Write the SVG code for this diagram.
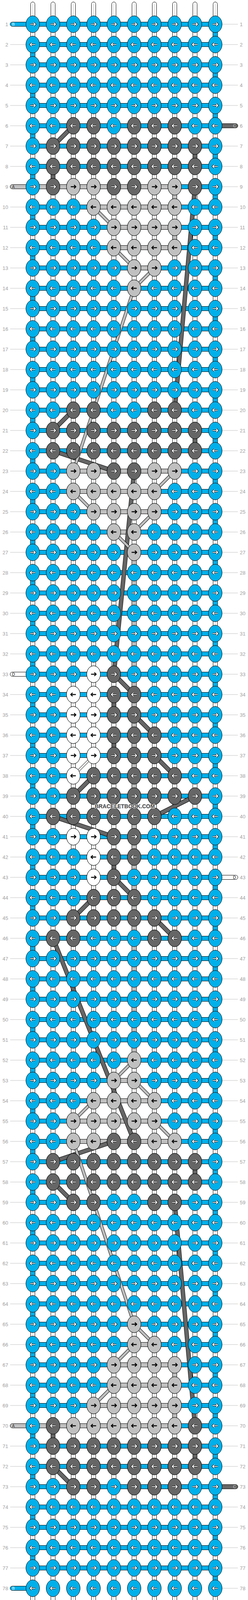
<svg xmlns="http://www.w3.org/2000/svg" xmlns:xlink="http://www.w3.org/1999/xlink" width="636" height="4128" viewBox="0 0 636 4128">
<style>
.lab{font-family:"Liberation Sans",Arial,sans-serif;font-size:13px;fill:#a0a0a0}
.le{text-anchor:end}
.tl{font-family:"Liberation Sans",Arial,sans-serif;font-size:10px}
</style>
<defs>
<ellipse id="k" rx="17.5" ry="21.5" stroke="#000" stroke-width="1"/>
<path id="pr" d="M-6.5,0H6M2,-4.5L6.5,0L2,4.5"/>
<path id="pl" d="M6.5,0H-6M-2,-4.5L-6.5,0L-2,4.5"/>
<g id="wr" fill="none"><use href="#pr" stroke="#000" stroke-width="4.2"/><use href="#pr" stroke="#fff" stroke-width="2.2"/></g>
<g id="wl" fill="none"><use href="#pl" stroke="#000" stroke-width="4.2"/><use href="#pl" stroke="#fff" stroke-width="2.2"/></g>
<g id="Br"><use href="#k" fill="#00b0ea"/><use href="#wr"/></g>
<g id="Bl"><use href="#k" fill="#00b0ea"/><use href="#wl"/></g>
<g id="Gr"><use href="#k" fill="#666"/><use href="#wr"/></g>
<g id="Gl"><use href="#k" fill="#666"/><use href="#wl"/></g>
<g id="Lr"><use href="#k" fill="#c0c0c0"/><use href="#pr" fill="none" stroke="#000" stroke-width="2.4"/></g>
<g id="Ll"><use href="#k" fill="#c0c0c0"/><use href="#pl" fill="none" stroke="#000" stroke-width="2.4"/></g>
<g id="Wr"><use href="#k" fill="#fff"/><use href="#pr" fill="none" stroke="#000" stroke-width="2.4"/></g>
<g id="Wl"><use href="#k" fill="#fff"/><use href="#pl" fill="none" stroke="#000" stroke-width="2.4"/></g>
<g id="RB"><use href="#Br" x="84"/><use href="#Br" x="136"/><use href="#Br" x="188"/><use href="#Br" x="240"/><use href="#Br" x="292"/><use href="#Br" x="344"/><use href="#Br" x="396"/><use href="#Br" x="448"/><use href="#Br" x="500"/><use href="#Br" x="552"/></g>
<g id="LB"><use href="#Bl" x="84"/><use href="#Bl" x="136"/><use href="#Bl" x="188"/><use href="#Bl" x="240"/><use href="#Bl" x="292"/><use href="#Bl" x="344"/><use href="#Bl" x="396"/><use href="#Bl" x="448"/><use href="#Bl" x="500"/><use href="#Bl" x="552"/></g>
<g id="GR"><use href="#Gr" x="136"/><use href="#Gr" x="188"/><use href="#Gr" x="240"/><use href="#Gr" x="292"/><use href="#Gr" x="344"/><use href="#Gr" x="396"/><use href="#Gr" x="448"/><use href="#Gr" x="500"/></g>
<g id="GL"><use href="#Gl" x="136"/><use href="#Gl" x="188"/><use href="#Gl" x="240"/><use href="#Gl" x="292"/><use href="#Gl" x="344"/><use href="#Gl" x="396"/><use href="#Gl" x="448"/><use href="#Gl" x="500"/></g>
<rect id="vs" x="-5.5" y="18" width="11" height="16" stroke="#000" stroke-width="1"/>
<path id="dg" d="M188,322L136,374M500,478L448,1050M188,1050L136,1102M136,1154L292,1206M344,1206L292,1726M292,1726L344,1778M344,1830L396,1882M396,1934L448,1986M240,1986L188,2038M500,2038L396,2090M136,2090L292,2142M292,2246L344,2298M240,2298L188,2350M396,2350L448,2402M136,2402L344,2922M292,2922L136,2974M136,3026L188,3078M448,3078L500,3650M136,3754L188,3806"/>
<path id="dl" d="M240,530L292,582M292,634L344,686M396,686L344,738M344,738L188,1206M448,1206L396,1258M188,1258L240,1310M396,1310L344,1362M292,1362L344,1414M344,2714L292,2766M344,2766L396,2818M240,2818L188,2870M396,2870L448,2922M188,2922L344,3390M344,3390L396,3442M344,3442L292,3494M292,3546L240,3598"/>
</defs>
<rect width="636" height="4128" fill="#fff"/>
<g id="connectors">
<g fill="#fff" stroke="#000" stroke-width="1">
<rect x="78.5" y="5" width="11" height="4118" rx="5.5"/><rect x="130.5" y="5" width="11" height="4118" rx="5.5"/><rect x="182.5" y="5" width="11" height="4118" rx="5.5"/><rect x="234.5" y="5" width="11" height="4118" rx="5.5"/><rect x="286.5" y="5" width="11" height="4118" rx="5.5"/><rect x="338.5" y="5" width="11" height="4118" rx="5.5"/><rect x="390.5" y="5" width="11" height="4118" rx="5.5"/><rect x="442.5" y="5" width="11" height="4118" rx="5.5"/><rect x="494.5" y="5" width="11" height="4118" rx="5.5"/><rect x="546.5" y="5" width="11" height="4118" rx="5.5"/>
</g>
<path d="M84,10V4118M136,10V4118M188,10V4118M240,10V4118M292,10V4118M344,10V4118M396,10V4118M448,10V4118M500,10V4118M552,10V4118" stroke="#b8b8b8" stroke-width="1"/>
<path fill="#00b0ea" stroke="#000" stroke-width="1" d="M84,56.5h468v11h-468zm0,52h468v11h-468zm0,52h468v11h-468zm0,52h468v11h-468zm0,52h468v11h-468zm0,52h468v11h-468zm0,52h468v11h-468zm0,52h468v11h-468zm0,52h468v11h-468zm0,52h468v11h-468zm0,52h468v11h-468zm0,52h468v11h-468zm0,52h468v11h-468zm0,52h468v11h-468zm0,52h468v11h-468zm0,52h468v11h-468zm0,52h468v11h-468zm0,52h468v11h-468zm0,52h468v11h-468zm0,52h468v11h-468zm0,52h468v11h-468zm0,52h468v11h-468zm0,52h468v11h-468zm0,52h468v11h-468zm0,52h468v11h-468zm0,52h468v11h-468zm0,52h468v11h-468zm0,52h468v11h-468zm0,52h468v11h-468zm0,52h468v11h-468zm0,52h468v11h-468zm0,52h468v11h-468zm0,52h468v11h-468zm0,52h468v11h-468zm0,52h468v11h-468zm0,52h468v11h-468zm0,52h468v11h-468zm0,52h468v11h-468zm0,52h468v11h-468zm0,52h468v11h-468zm0,52h468v11h-468zm0,52h468v11h-468zm0,52h468v11h-468zm0,52h468v11h-468zm0,52h468v11h-468zm0,52h468v11h-468zm0,52h468v11h-468zm0,52h468v11h-468zm0,52h468v11h-468zm0,52h468v11h-468zm0,52h468v11h-468zm0,52h468v11h-468zm0,52h468v11h-468zm0,52h468v11h-468zm0,52h468v11h-468zm0,52h468v11h-468zm0,52h468v11h-468zm0,52h468v11h-468zm0,52h468v11h-468zm0,52h468v11h-468zm0,52h468v11h-468zm0,52h468v11h-468zm0,52h468v11h-468zm0,52h468v11h-468zm0,52h468v11h-468zm0,52h468v11h-468zm0,52h468v11h-468zm0,52h468v11h-468zm0,52h468v11h-468zm0,52h468v11h-468zm0,52h468v11h-468zm0,52h468v11h-468zm0,52h468v11h-468zm0,52h468v11h-468zm0,52h468v11h-468zm0,52h468v11h-468zm0,52h468v11h-468z"/>
<path fill="#c0c0c0" stroke="#000" stroke-width="1" d="M84,472.5h364v11h-364zM240,524.5h208v11h-208zM292,576.5h156v11h-156zM292,628.5h156v11h-156zM344,680.5h52v11h-52zM188,1200.5h260v11h-260zM188,1252.5h208v11h-208zM240,1304.5h156v11h-156zM292,1356.5h52v11h-52zM292,2760.5h52v11h-52zM240,2812.5h156v11h-156zM188,2864.5h208v11h-208zM188,2916.5h260v11h-260zM344,3436.5h52v11h-52zM292,3488.5h156v11h-156zM292,3540.5h156v11h-156zM240,3592.5h208v11h-208zM84,3644.5h364v11h-364z"/>
<line x1="552" y1="80" x2="552" y2="4050" stroke="#000" stroke-width="13" stroke-dasharray="16 88"/>
<line x1="552" y1="80" x2="552" y2="4050" stroke="#00b0ea" stroke-width="11" stroke-dasharray="16 88"/>
<line x1="84" y1="132" x2="84" y2="4000" stroke="#000" stroke-width="13" stroke-dasharray="16 88"/>
<line x1="84" y1="132" x2="84" y2="4000" stroke="#00b0ea" stroke-width="11" stroke-dasharray="16 88"/>
<line x1="344" y1="1432" x2="344" y2="2700" stroke="#000" stroke-width="13" stroke-dasharray="16 36"/>
<line x1="344" y1="1432" x2="344" y2="2700" stroke="#c0c0c0" stroke-width="11" stroke-dasharray="16 36"/>
<g fill="#666"><use href="#vs" x="500" y="374"/><use href="#vs" x="136" y="426"/><use href="#vs" x="500" y="1102"/><use href="#vs" x="292" y="1778"/><use href="#vs" x="292" y="1882"/><use href="#vs" x="292" y="2194"/><use href="#vs" x="500" y="2974"/><use href="#vs" x="136" y="3650"/><use href="#vs" x="500" y="3702"/></g>
<g fill="#c0c0c0"><use href="#vs" x="448" y="478"/><use href="#vs" x="448" y="582"/><use href="#vs" x="448" y="3494"/><use href="#vs" x="448" y="3598"/></g>
<g fill="none">
<use href="#dg" stroke="#000" stroke-width="11"/>
<use href="#dg" stroke="#666" stroke-width="9"/>
<use href="#dl" stroke="#000" stroke-width="8"/>
<use href="#dl" stroke="#c0c0c0" stroke-width="6"/>
<path d="M240,1934L188,1986" stroke="#000" stroke-width="6"/>
<path d="M240,1934L188,1986" stroke="#fff" stroke-width="4"/>
</g>
<g id="tails" stroke="#000" stroke-width="1">
<rect x="26" y="56.5" width="60" height="11" rx="5.5" fill="#00b0ea"/>
<rect x="26" y="472.5" width="60" height="11" rx="5.5" fill="#c0c0c0"/>
<rect x="26" y="1720.5" width="60" height="11" rx="5.5" fill="#fff"/>
<rect x="26" y="3644.5" width="60" height="11" rx="5.5" fill="#c0c0c0"/>
<rect x="26" y="4060.5" width="60" height="11" rx="5.5" fill="#00b0ea"/>
<rect x="550" y="316.5" width="60" height="11" rx="5.5" fill="#666"/>
<rect x="550" y="2240.5" width="60" height="11" rx="5.5" fill="#fff"/>
<rect x="550" y="3800.5" width="60" height="11" rx="5.5" fill="#666"/>
</g>
<g class="tl">
<text x="31" y="65.6" fill="#fff">B</text>
<text x="31" y="481.6" fill="#333">A</text>
<text x="31" y="1729.6" fill="#000">D</text>
<text x="31" y="3653.6" fill="#333">A</text>
<text x="31" y="4069.6" fill="#fff">B</text>
<text x="605" y="325.6" fill="#ccc" text-anchor="end">C</text>
<text x="605" y="2249.6" fill="#000" text-anchor="end">D</text>
<text x="605" y="3809.6" fill="#ccc" text-anchor="end">C</text>
</g>
</g>
<g id="labellines" stroke="#c0c0c0" stroke-width="1">
<path d="M26,114h41M26,166h41M26,218h41M26,270h41M26,322h41M26,374h41M26,426h41M26,530h41M26,582h41M26,634h41M26,686h41M26,738h41M26,790h41M26,842h41M26,894h41M26,946h41M26,998h41M26,1050h41M26,1102h41M26,1154h41M26,1206h41M26,1258h41M26,1310h41M26,1362h41M26,1414h41M26,1466h41M26,1518h41M26,1570h41M26,1622h41M26,1674h41M26,1778h41M26,1830h41M26,1882h41M26,1934h41M26,1986h41M26,2038h41M26,2090h41M26,2142h41M26,2194h41M26,2246h41M26,2298h41M26,2350h41M26,2402h41M26,2454h41M26,2506h41M26,2558h41M26,2610h41M26,2662h41M26,2714h41M26,2766h41M26,2818h41M26,2870h41M26,2922h41M26,2974h41M26,3026h41M26,3078h41M26,3130h41M26,3182h41M26,3234h41M26,3286h41M26,3338h41M26,3390h41M26,3442h41M26,3494h41M26,3546h41M26,3598h41M26,3702h41M26,3754h41M26,3806h41M26,3858h41M26,3910h41M26,3962h41M26,4014h41"/>
<path d="M569,62h41M569,114h41M569,166h41M569,218h41M569,270h41M569,374h41M569,426h41M569,478h41M569,530h41M569,582h41M569,634h41M569,686h41M569,738h41M569,790h41M569,842h41M569,894h41M569,946h41M569,998h41M569,1050h41M569,1102h41M569,1154h41M569,1206h41M569,1258h41M569,1310h41M569,1362h41M569,1414h41M569,1466h41M569,1518h41M569,1570h41M569,1622h41M569,1674h41M569,1726h41M569,1778h41M569,1830h41M569,1882h41M569,1934h41M569,1986h41M569,2038h41M569,2090h41M569,2142h41M569,2194h41M569,2298h41M569,2350h41M569,2402h41M569,2454h41M569,2506h41M569,2558h41M569,2610h41M569,2662h41M569,2714h41M569,2766h41M569,2818h41M569,2870h41M569,2922h41M569,2974h41M569,3026h41M569,3078h41M569,3130h41M569,3182h41M569,3234h41M569,3286h41M569,3338h41M569,3390h41M569,3442h41M569,3494h41M569,3546h41M569,3598h41M569,3650h41M569,3702h41M569,3754h41M569,3858h41M569,3910h41M569,3962h41M569,4014h41M569,4066h41"/>
</g>
<g id="knots">
<g id="row1" transform="translate(0,62)"><use href="#RB"/></g>
<g id="row2" transform="translate(0,114)"><use href="#LB"/></g>
<g id="row3" transform="translate(0,166)"><use href="#RB"/></g>
<g id="row4" transform="translate(0,218)"><use href="#LB"/></g>
<g id="row5" transform="translate(0,270)"><use href="#RB"/></g>
<g id="row6" transform="translate(0,322)"><use href="#LB"/><use href="#Gl" x="188"/><use href="#Gl" x="240"/><use href="#Gl" x="344"/><use href="#Gl" x="396"/><use href="#Gl" x="448"/></g>
<g id="row7" transform="translate(0,374)"><use href="#RB"/><use href="#GR"/></g>
<g id="row8" transform="translate(0,426)"><use href="#LB"/><use href="#GL"/></g>
<g id="row9" transform="translate(0,478)"><use href="#RB"/><use href="#Gr" x="136"/><use href="#Lr" x="188"/><use href="#Lr" x="240"/><use href="#Gr" x="292"/><use href="#Gr" x="344"/><use href="#Lr" x="396"/><use href="#Lr" x="448"/><use href="#Gr" x="500"/></g>
<g id="row10" transform="translate(0,530)"><use href="#LB"/><use href="#Ll" x="240"/><use href="#Ll" x="292"/><use href="#Ll" x="344"/><use href="#Ll" x="396"/><use href="#Ll" x="448"/></g>
<g id="row11" transform="translate(0,582)"><use href="#RB"/><use href="#Lr" x="292"/><use href="#Lr" x="344"/><use href="#Lr" x="396"/><use href="#Lr" x="448"/></g>
<g id="row12" transform="translate(0,634)"><use href="#LB"/><use href="#Ll" x="292"/><use href="#Ll" x="344"/><use href="#Ll" x="396"/><use href="#Ll" x="448"/></g>
<g id="row13" transform="translate(0,686)"><use href="#RB"/><use href="#Lr" x="344"/><use href="#Lr" x="396"/></g>
<g id="row14" transform="translate(0,738)"><use href="#LB"/><use href="#Ll" x="344"/></g>
<g id="row15" transform="translate(0,790)"><use href="#RB"/></g>
<g id="row16" transform="translate(0,842)"><use href="#LB"/></g>
<g id="row17" transform="translate(0,894)"><use href="#RB"/></g>
<g id="row18" transform="translate(0,946)"><use href="#LB"/></g>
<g id="row19" transform="translate(0,998)"><use href="#RB"/></g>
<g id="row20" transform="translate(0,1050)"><use href="#LB"/><use href="#Gl" x="188"/><use href="#Gl" x="240"/><use href="#Gl" x="396"/><use href="#Gl" x="448"/></g>
<g id="row21" transform="translate(0,1102)"><use href="#RB"/><use href="#GR"/></g>
<g id="row22" transform="translate(0,1154)"><use href="#LB"/><use href="#GL"/></g>
<g id="row23" transform="translate(0,1206)"><use href="#RB"/><use href="#Lr" x="188"/><use href="#Lr" x="240"/><use href="#Gr" x="292"/><use href="#Gr" x="344"/><use href="#Lr" x="396"/><use href="#Lr" x="448"/></g>
<g id="row24" transform="translate(0,1258)"><use href="#LB"/><use href="#Ll" x="188"/><use href="#Ll" x="240"/><use href="#Ll" x="292"/><use href="#Ll" x="344"/><use href="#Ll" x="396"/></g>
<g id="row25" transform="translate(0,1310)"><use href="#RB"/><use href="#Lr" x="240"/><use href="#Lr" x="292"/><use href="#Lr" x="344"/><use href="#Lr" x="396"/></g>
<g id="row26" transform="translate(0,1362)"><use href="#LB"/><use href="#Ll" x="292"/><use href="#Ll" x="344"/></g>
<g id="row27" transform="translate(0,1414)"><use href="#RB"/><use href="#Lr" x="344"/></g>
<g id="row28" transform="translate(0,1466)"><use href="#LB"/></g>
<g id="row29" transform="translate(0,1518)"><use href="#RB"/></g>
<g id="row30" transform="translate(0,1570)"><use href="#LB"/></g>
<g id="row31" transform="translate(0,1622)"><use href="#RB"/></g>
<g id="row32" transform="translate(0,1674)"><use href="#LB"/></g>
<g id="row33" transform="translate(0,1726)"><use href="#RB"/><use href="#Wr" x="240"/><use href="#Gr" x="292"/></g>
<g id="row34" transform="translate(0,1778)"><use href="#LB"/><use href="#Wl" x="188"/><use href="#Wl" x="240"/><use href="#Gl" x="292"/><use href="#Gl" x="344"/></g>
<g id="row35" transform="translate(0,1830)"><use href="#RB"/><use href="#Wr" x="188"/><use href="#Wr" x="240"/><use href="#Gr" x="292"/><use href="#Gr" x="344"/></g>
<g id="row36" transform="translate(0,1882)"><use href="#LB"/><use href="#Wl" x="188"/><use href="#Wl" x="240"/><use href="#Gl" x="292"/><use href="#Gl" x="344"/><use href="#Gl" x="396"/></g>
<g id="row37" transform="translate(0,1934)"><use href="#RB"/><use href="#Wr" x="188"/><use href="#Wr" x="240"/><use href="#Gr" x="292"/><use href="#Gr" x="344"/><use href="#Gr" x="396"/></g>
<g id="row38" transform="translate(0,1986)"><use href="#LB"/><use href="#Wl" x="188"/><use href="#Gl" x="240"/><use href="#Gl" x="292"/><use href="#Gl" x="344"/><use href="#Gl" x="396"/><use href="#Gl" x="448"/></g>
<g id="row39" transform="translate(0,2038)"><use href="#RB"/><use href="#Gr" x="188"/><use href="#Gr" x="240"/><use href="#Gr" x="292"/><use href="#Gr" x="344"/><use href="#Gr" x="396"/><use href="#Gr" x="448"/><use href="#Gr" x="500"/></g>
<g id="row40" transform="translate(0,2090)"><use href="#LB"/><use href="#Gl" x="136"/><use href="#Gl" x="188"/><use href="#Gl" x="240"/><use href="#Gl" x="292"/><use href="#Gl" x="344"/><use href="#Gl" x="396"/></g>
<g id="row41" transform="translate(0,2142)"><use href="#RB"/><use href="#Wr" x="188"/><use href="#Wr" x="240"/><use href="#Gr" x="292"/><use href="#Gr" x="344"/></g>
<g id="row42" transform="translate(0,2194)"><use href="#LB"/><use href="#Wl" x="240"/><use href="#Gl" x="292"/><use href="#Gl" x="344"/></g>
<g id="row43" transform="translate(0,2246)"><use href="#RB"/><use href="#Wr" x="240"/><use href="#Gr" x="292"/></g>
<g id="row44" transform="translate(0,2298)"><use href="#LB"/><use href="#Gl" x="240"/><use href="#Gl" x="292"/><use href="#Gl" x="344"/></g>
<g id="row45" transform="translate(0,2350)"><use href="#RB"/><use href="#Gr" x="188"/><use href="#Gr" x="240"/><use href="#Gr" x="292"/><use href="#Gr" x="344"/><use href="#Gr" x="396"/></g>
<g id="row46" transform="translate(0,2402)"><use href="#LB"/><use href="#Gl" x="136"/><use href="#Gl" x="188"/><use href="#Gl" x="396"/><use href="#Gl" x="448"/></g>
<g id="row47" transform="translate(0,2454)"><use href="#RB"/></g>
<g id="row48" transform="translate(0,2506)"><use href="#LB"/></g>
<g id="row49" transform="translate(0,2558)"><use href="#RB"/></g>
<g id="row50" transform="translate(0,2610)"><use href="#LB"/></g>
<g id="row51" transform="translate(0,2662)"><use href="#RB"/></g>
<g id="row52" transform="translate(0,2714)"><use href="#LB"/><use href="#Ll" x="344"/></g>
<g id="row53" transform="translate(0,2766)"><use href="#RB"/><use href="#Lr" x="292"/><use href="#Lr" x="344"/></g>
<g id="row54" transform="translate(0,2818)"><use href="#LB"/><use href="#Ll" x="240"/><use href="#Ll" x="292"/><use href="#Ll" x="344"/><use href="#Ll" x="396"/></g>
<g id="row55" transform="translate(0,2870)"><use href="#RB"/><use href="#Lr" x="188"/><use href="#Lr" x="240"/><use href="#Lr" x="292"/><use href="#Lr" x="344"/><use href="#Lr" x="396"/></g>
<g id="row56" transform="translate(0,2922)"><use href="#LB"/><use href="#Ll" x="188"/><use href="#Ll" x="240"/><use href="#Gl" x="292"/><use href="#Gl" x="344"/><use href="#Ll" x="396"/><use href="#Ll" x="448"/></g>
<g id="row57" transform="translate(0,2974)"><use href="#RB"/><use href="#GR"/></g>
<g id="row58" transform="translate(0,3026)"><use href="#LB"/><use href="#GL"/></g>
<g id="row59" transform="translate(0,3078)"><use href="#RB"/><use href="#Gr" x="188"/><use href="#Gr" x="240"/><use href="#Gr" x="396"/><use href="#Gr" x="448"/></g>
<g id="row60" transform="translate(0,3130)"><use href="#LB"/></g>
<g id="row61" transform="translate(0,3182)"><use href="#RB"/></g>
<g id="row62" transform="translate(0,3234)"><use href="#LB"/></g>
<g id="row63" transform="translate(0,3286)"><use href="#RB"/></g>
<g id="row64" transform="translate(0,3338)"><use href="#LB"/></g>
<g id="row65" transform="translate(0,3390)"><use href="#RB"/><use href="#Lr" x="344"/></g>
<g id="row66" transform="translate(0,3442)"><use href="#LB"/><use href="#Ll" x="344"/><use href="#Ll" x="396"/></g>
<g id="row67" transform="translate(0,3494)"><use href="#RB"/><use href="#Lr" x="292"/><use href="#Lr" x="344"/><use href="#Lr" x="396"/><use href="#Lr" x="448"/></g>
<g id="row68" transform="translate(0,3546)"><use href="#LB"/><use href="#Ll" x="292"/><use href="#Ll" x="344"/><use href="#Ll" x="396"/><use href="#Ll" x="448"/></g>
<g id="row69" transform="translate(0,3598)"><use href="#RB"/><use href="#Lr" x="240"/><use href="#Lr" x="292"/><use href="#Lr" x="344"/><use href="#Lr" x="396"/><use href="#Lr" x="448"/></g>
<g id="row70" transform="translate(0,3650)"><use href="#LB"/><use href="#Gl" x="136"/><use href="#Ll" x="188"/><use href="#Ll" x="240"/><use href="#Ll" x="292"/><use href="#Ll" x="344"/><use href="#Ll" x="396"/><use href="#Ll" x="448"/><use href="#Gl" x="500"/></g>
<g id="row71" transform="translate(0,3702)"><use href="#RB"/><use href="#GR"/></g>
<g id="row72" transform="translate(0,3754)"><use href="#LB"/><use href="#GL"/></g>
<g id="row73" transform="translate(0,3806)"><use href="#RB"/><use href="#Gr" x="188"/><use href="#Gr" x="240"/><use href="#Gr" x="344"/><use href="#Gr" x="396"/><use href="#Gr" x="448"/></g>
<g id="row74" transform="translate(0,3858)"><use href="#LB"/></g>
<g id="row75" transform="translate(0,3910)"><use href="#RB"/></g>
<g id="row76" transform="translate(0,3962)"><use href="#LB"/></g>
<g id="row77" transform="translate(0,4014)"><use href="#RB"/></g>
<g id="row78" transform="translate(0,4066)"><use href="#LB"/></g>
</g>
<g id="labels" class="lab">
<g class="le">
<text x="21" y="66.6">1</text><text x="21" y="118.6">2</text><text x="21" y="170.6">3</text><text x="21" y="222.6">4</text><text x="21" y="274.6">5</text><text x="21" y="326.6">6</text><text x="21" y="378.6">7</text><text x="21" y="430.6">8</text><text x="21" y="482.6">9</text><text x="21" y="534.6">10</text><text x="21" y="586.6">11</text><text x="21" y="638.6">12</text><text x="21" y="690.6">13</text><text x="21" y="742.6">14</text><text x="21" y="794.6">15</text><text x="21" y="846.6">16</text><text x="21" y="898.6">17</text><text x="21" y="950.6">18</text><text x="21" y="1002.6">19</text><text x="21" y="1054.6">20</text><text x="21" y="1106.6">21</text><text x="21" y="1158.6">22</text><text x="21" y="1210.6">23</text><text x="21" y="1262.6">24</text><text x="21" y="1314.6">25</text><text x="21" y="1366.6">26</text><text x="21" y="1418.6">27</text><text x="21" y="1470.6">28</text><text x="21" y="1522.6">29</text><text x="21" y="1574.6">30</text><text x="21" y="1626.6">31</text><text x="21" y="1678.6">32</text><text x="21" y="1730.6">33</text><text x="21" y="1782.6">34</text><text x="21" y="1834.6">35</text><text x="21" y="1886.6">36</text><text x="21" y="1938.6">37</text><text x="21" y="1990.6">38</text><text x="21" y="2042.6">39</text><text x="21" y="2094.6">40</text><text x="21" y="2146.6">41</text><text x="21" y="2198.6">42</text><text x="21" y="2250.6">43</text><text x="21" y="2302.6">44</text><text x="21" y="2354.6">45</text><text x="21" y="2406.6">46</text><text x="21" y="2458.6">47</text><text x="21" y="2510.6">48</text><text x="21" y="2562.6">49</text><text x="21" y="2614.6">50</text><text x="21" y="2666.6">51</text><text x="21" y="2718.6">52</text><text x="21" y="2770.6">53</text><text x="21" y="2822.6">54</text><text x="21" y="2874.6">55</text><text x="21" y="2926.6">56</text><text x="21" y="2978.6">57</text><text x="21" y="3030.6">58</text><text x="21" y="3082.6">59</text><text x="21" y="3134.6">60</text><text x="21" y="3186.6">61</text><text x="21" y="3238.6">62</text><text x="21" y="3290.6">63</text><text x="21" y="3342.6">64</text><text x="21" y="3394.6">65</text><text x="21" y="3446.6">66</text><text x="21" y="3498.6">67</text><text x="21" y="3550.6">68</text><text x="21" y="3602.6">69</text><text x="21" y="3654.6">70</text><text x="21" y="3706.6">71</text><text x="21" y="3758.6">72</text><text x="21" y="3810.6">73</text><text x="21" y="3862.6">74</text><text x="21" y="3914.6">75</text><text x="21" y="3966.6">76</text><text x="21" y="4018.6">77</text><text x="21" y="4070.6">78</text>
</g>
<g>
<text x="615" y="66.6">1</text><text x="615" y="118.6">2</text><text x="615" y="170.6">3</text><text x="615" y="222.6">4</text><text x="615" y="274.6">5</text><text x="615" y="326.6">6</text><text x="615" y="378.6">7</text><text x="615" y="430.6">8</text><text x="615" y="482.6">9</text><text x="615" y="534.6">10</text><text x="615" y="586.6">11</text><text x="615" y="638.6">12</text><text x="615" y="690.6">13</text><text x="615" y="742.6">14</text><text x="615" y="794.6">15</text><text x="615" y="846.6">16</text><text x="615" y="898.6">17</text><text x="615" y="950.6">18</text><text x="615" y="1002.6">19</text><text x="615" y="1054.6">20</text><text x="615" y="1106.6">21</text><text x="615" y="1158.6">22</text><text x="615" y="1210.6">23</text><text x="615" y="1262.6">24</text><text x="615" y="1314.6">25</text><text x="615" y="1366.6">26</text><text x="615" y="1418.6">27</text><text x="615" y="1470.6">28</text><text x="615" y="1522.6">29</text><text x="615" y="1574.6">30</text><text x="615" y="1626.6">31</text><text x="615" y="1678.6">32</text><text x="615" y="1730.6">33</text><text x="615" y="1782.6">34</text><text x="615" y="1834.6">35</text><text x="615" y="1886.6">36</text><text x="615" y="1938.6">37</text><text x="615" y="1990.6">38</text><text x="615" y="2042.6">39</text><text x="615" y="2094.6">40</text><text x="615" y="2146.6">41</text><text x="615" y="2198.6">42</text><text x="615" y="2250.6">43</text><text x="615" y="2302.6">44</text><text x="615" y="2354.6">45</text><text x="615" y="2406.6">46</text><text x="615" y="2458.6">47</text><text x="615" y="2510.6">48</text><text x="615" y="2562.6">49</text><text x="615" y="2614.6">50</text><text x="615" y="2666.6">51</text><text x="615" y="2718.6">52</text><text x="615" y="2770.6">53</text><text x="615" y="2822.6">54</text><text x="615" y="2874.6">55</text><text x="615" y="2926.6">56</text><text x="615" y="2978.6">57</text><text x="615" y="3030.6">58</text><text x="615" y="3082.6">59</text><text x="615" y="3134.6">60</text><text x="615" y="3186.6">61</text><text x="615" y="3238.6">62</text><text x="615" y="3290.6">63</text><text x="615" y="3342.6">64</text><text x="615" y="3394.6">65</text><text x="615" y="3446.6">66</text><text x="615" y="3498.6">67</text><text x="615" y="3550.6">68</text><text x="615" y="3602.6">69</text><text x="615" y="3654.6">70</text><text x="615" y="3706.6">71</text><text x="615" y="3758.6">72</text><text x="615" y="3810.6">73</text><text x="615" y="3862.6">74</text><text x="615" y="3914.6">75</text><text x="615" y="3966.6">76</text><text x="615" y="4018.6">77</text><text x="615" y="4070.6">78</text>
</g>
</g>
<text id="watermark" x="320" y="2069" text-anchor="middle" font-family="'Liberation Sans',Arial,sans-serif" font-weight="bold" font-size="15" textLength="154" lengthAdjust="spacingAndGlyphs" fill="#4a4a4a" stroke="#eeeeee" stroke-width="2" paint-order="stroke">BRACELETBOOK.COM</text>
</svg>
